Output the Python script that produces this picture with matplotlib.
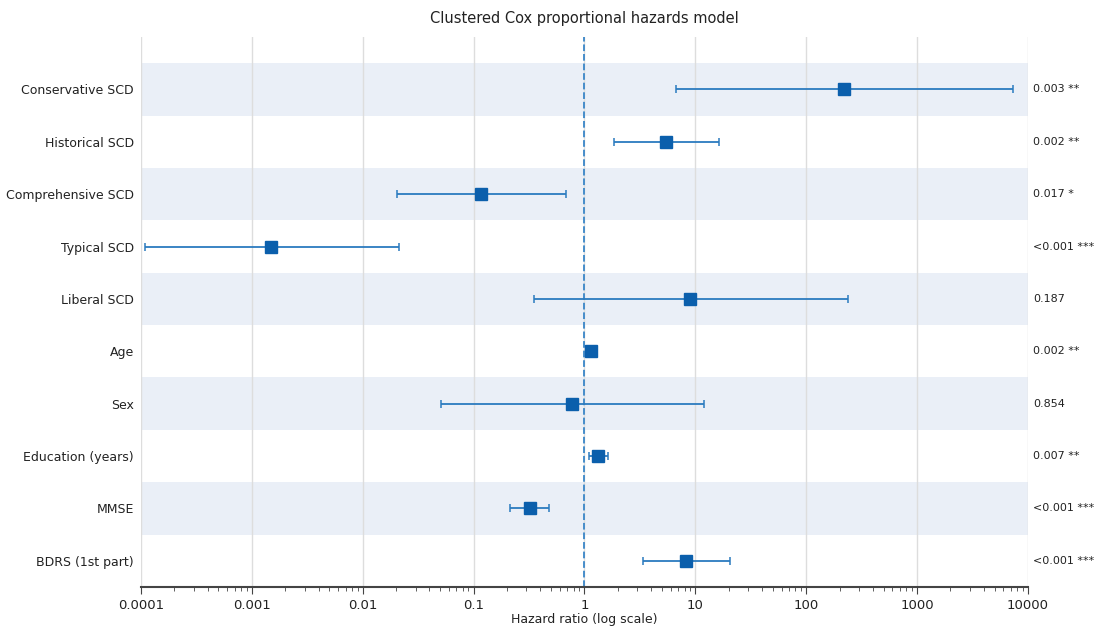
import matplotlib.pyplot as plt
import numpy as np

labels = ['Conservative SCD', 'Historical SCD', 'Comprehensive SCD', 'Typical SCD',
          'Liberal SCD', 'Age', 'Sex', 'Education (years)', 'MMSE', 'BDRS (1st part)']
hr = [219, 5.43, 0.117, 0.00149, 8.94, 1.145, 0.77, 1.32, 0.323, 8.23]
ci_low = [6.7, 1.85, 0.0204, 0.000109, 0.35, 1.08, 0.0508, 1.1, 0.213, 3.37]
ci_high = [7300, 16.3, 0.68, 0.0212, 238, 1.21, 11.96, 1.63, 0.479, 20.5]
p_text = ['0.003 **', '0.002 **', '0.017 *', '<0.001 ***', '0.187',
          '0.002 **', '0.854', '0.007 **', '<0.001 ***', '<0.001 ***']

n = len(labels)
y = np.arange(n)[::-1]
hr = np.array(hr)
err = [hr - np.array(ci_low), np.array(ci_high) - hr]

fig = plt.figure(figsize=(10.97, 6.28), dpi=100)
ax = fig.add_axes([0.1285, 0.0653, 0.8085, 0.8757])

for i in range(n):
    if i % 2 == 0:
        ax.axhspan(y[i] - 0.5, y[i] + 0.5, color='#eaeff7', zorder=0, lw=0)

ax.errorbar(hr, y, xerr=err, fmt='none', ecolor='#2b7bbf', elinewidth=1.3,
            capsize=3, capthick=1.1, zorder=3)
ax.plot(hr, y, 's', color='#0b5fac', markersize=8, zorder=4)
ax.axvline(1, color='#3a86c8', ls='--', lw=1.3, zorder=2)

ax.set_xscale('log')
ax.set_xlim(1e-4, 1e4)
ax.set_ylim(-0.5, 10)
ticks = [1e-4, 1e-3, 1e-2, 1e-1, 1, 10, 100, 1000, 10000]
ax.set_xticks(ticks)
ax.set_xticklabels(['0.0001', '0.001', '0.01', '0.1', '1', '10', '100', '1000', '10000'],
                   fontsize=9.5, color='#222222')
ax.set_yticks(y)
ax.set_yticklabels(labels, fontsize=9, color='#222222')
ax.tick_params(axis='y', length=0, pad=5)
ax.tick_params(axis='x', which='major', length=5, color='#444444')
ax.tick_params(axis='x', which='minor', length=3, color='#444444')
ax.grid(axis='x', which='major', color='#dddddd', lw=1, zorder=1)
ax.set_axisbelow(True)
for s in ['top', 'right', 'left']:
    ax.spines[s].set_visible(False)
ax.spines['bottom'].set_color('#444444')
ax.spines['bottom'].set_linewidth(1.5)

for yi, t in zip(y, p_text):
    ax.text(1.006, yi, t, transform=ax.get_yaxis_transform(), va='center',
            ha='left', fontsize=8, color='#222222')

ax.set_xlabel('Hazard ratio (log scale)', fontsize=9, labelpad=1, color='#222222')
ax.set_title('Clustered Cox proportional hazards model', fontsize=10.5, pad=10,
             color='#222222')

fig.savefig('out.png', dpi=100)
